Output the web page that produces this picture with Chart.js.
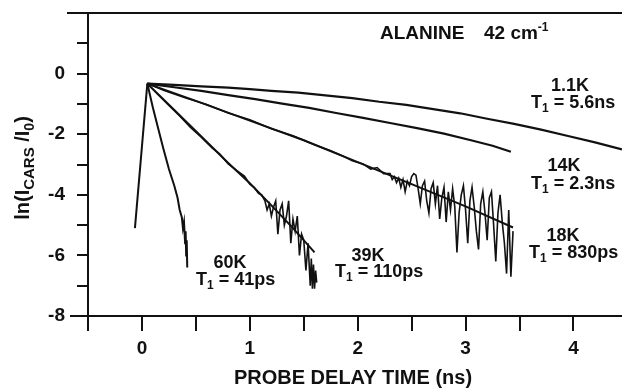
<!DOCTYPE html>
<html>
<head>
<meta charset="utf-8">
<script src="https://cdn.jsdelivr.net/npm/chart.js@4"></script>
<style>
  body { margin: 0; background: #fff; }
  #wrap { width: 622px; height: 388px; position: relative; }
</style>
</head>
<body>
<div id="wrap"><canvas id="myChart"></canvas></div>
<script>
// probe delay (ns) and ln(I_CARS/I_0)
const riseX = [-0.065, 0.05];
const riseY = [-5.1, -0.33];

const t1K = [0.05, 0.3, 0.55, 0.8, 1.0, 1.2, 1.45, 1.7, 1.95, 2.2, 2.45, 2.7, 2.95, 3.2, 3.45, 3.7, 3.95, 4.2, 4.45];
const ln1K = [-0.33, -0.37, -0.42, -0.46, -0.51, -0.57, -0.63, -0.72, -0.81, -0.93, -1.03, -1.17, -1.31, -1.49, -1.66, -1.85, -2.06, -2.27, -2.5];

const t14K = [0.05, 0.3, 0.55, 0.8, 1.05, 1.3, 1.55, 1.8, 2.05, 2.3, 2.55, 2.8, 3.05, 3.25, 3.42];
const ln14K = [-0.33, -0.45, -0.57, -0.71, -0.84, -0.99, -1.13, -1.3, -1.46, -1.63, -1.8, -1.98, -2.2, -2.38, -2.58];

const t18K = [0.05, 0.2, 0.4, 0.6, 0.8, 1.0, 1.2, 1.4, 1.6, 1.75, 1.85, 1.95, 2.05, 2.12, 2.18, 2.24,
    2.30, 2.32, 2.34, 2.36, 2.38, 2.40, 2.42, 2.44, 2.46, 2.48, 2.50, 2.52, 2.54, 2.56, 2.58, 2.60, 2.62, 2.64, 2.66, 2.68,
    2.70, 2.72, 2.74, 2.76, 2.78, 2.80, 2.82, 2.84, 2.86, 2.88, 2.90, 2.92, 2.94, 2.96, 2.98, 3.00, 3.02, 3.04, 3.06, 3.08,
    3.10, 3.12, 3.14, 3.16, 3.18, 3.20, 3.22, 3.24, 3.26, 3.28, 3.30, 3.32, 3.34, 3.36, 3.38, 3.40, 3.42, 3.44];
const ln18K = [-0.33, -0.55, -0.8, -1.02, -1.3, -1.52, -1.82, -2.05, -2.35, -2.55, -2.7, -2.88, -2.98, -3.15, -3.1, -3.3,
    -3.3, -3.5, -3.4, -3.6, -3.45, -3.75, -3.5, -3.9, -3.55, -3.7, -3.4, -3.3, -3.35, -3.8, -4.3, -3.7, -3.55, -4.2, -4.6, -3.8,
    -3.6, -4.3, -3.7, -4.8, -4.1, -3.75, -4.9, -3.9, -4.5, -3.8, -4.4, -5.9, -4.6, -4.0, -3.7, -4.5, -5.6, -4.2, -3.75, -4.4,
    -5.2, -5.8, -4.3, -3.9, -4.6, -5.5, -4.1, -3.9, -5.0, -6.2, -4.6, -4.0, -4.9, -5.6, -6.6, -4.5, -6.7, -5.2];
const fit18KX = [0.05, 0.5, 1.0, 1.5, 2.0, 2.5, 3.0, 3.44];
const fit18KY = [-0.33, -0.9, -1.55, -2.2, -2.92, -3.65, -4.38, -5.08];

const t39K = [0.05, 0.15, 0.25, 0.35, 0.45, 0.55, 0.65, 0.72, 0.8, 0.88, 0.95, 1.0, 1.04, 1.08, 1.11,
    1.14, 1.16, 1.18, 1.20, 1.22, 1.24, 1.26, 1.28, 1.30, 1.32, 1.34, 1.36, 1.38, 1.40, 1.42, 1.44, 1.46, 1.48, 1.50,
    1.52, 1.54, 1.56, 1.57, 1.58, 1.59, 1.60, 1.61, 1.62];
const ln39K = [-0.33, -0.7, -1.05, -1.4, -1.78, -2.1, -2.45, -2.65, -2.98, -3.2, -3.38, -3.65, -3.75, -3.95, -4.0,
    -4.2, -4.5, -4.3, -4.7, -4.4, -4.2, -5.3, -4.5, -4.3, -5.0, -4.7, -4.2, -5.6, -4.8, -5.2, -4.7, -6.0, -5.3, -5.5,
    -6.5, -5.6, -7.0, -6.1, -7.1, -6.3, -7.1, -6.5, -6.9];
const fit39KX = [0.05, 0.3, 0.6, 0.8, 1.0, 1.2, 1.4, 1.6];
const fit39KY = [-0.33, -1.2, -2.25, -2.95, -3.62, -4.35, -5.1, -5.9];

const t60K = [0.05, 0.1, 0.15, 0.2, 0.25, 0.3, 0.33, 0.35, 0.37, 0.38, 0.39, 0.4, 0.405, 0.41, 0.415, 0.42];
const ln60K = [-0.33, -1.1, -1.8, -2.5, -3.15, -3.7, -4.1, -4.5, -4.75, -5.1, -4.9, -5.6, -5.2, -6.0, -5.5, -6.4];

const xTicks = [0, 1, 2, 3, 4];
const yTicks = [0, -2, -4, -6, -8];

const INK = '#111';
const FONT = '"Liberation Sans", Arial, sans-serif';

function pts(xs, ys) {
    return xs.map((x, i) => ({ x: x, y: ys[i] }));
}

function curve(xs, ys, w) {
    return {
        data: pts(xs, ys),
        showLine: true,
        borderColor: INK,
        borderWidth: w || 2,
        pointRadius: 0,
        tension: 0
    };
}

// text with sub/superscripts: parts = [[text, size, dy], ...]
function drawRich(ctx, parts, x, y, align) {
    let total = 0;
    parts.forEach(p => {
        ctx.font = 'bold ' + p[1] + 'px ' + FONT;
        total += ctx.measureText(p[0]).width;
    });
    let cx = x;
    if (align === 'center') cx = x - total / 2;
    parts.forEach(p => {
        ctx.font = 'bold ' + p[1] + 'px ' + FONT;
        ctx.fillText(p[0], cx, y + (p[2] || 0));
        cx += ctx.measureText(p[0]).width;
    });
}

function tLabel(ctx, value, x, y) {
    drawRich(ctx, [['T', 18], ['1', 12, 4], [' = ' + value, 18]], x, y, 'left');
}

const annotations = {
    id: 'annotations',
    afterDraw(chart) {
        const ctx = chart.ctx;
        const a = chart.chartArea;
        ctx.save();
        // frame pieces
        ctx.strokeStyle = INK;
        ctx.lineWidth = 2;
        ctx.beginPath();
        ctx.moveTo(67, a.top);
        ctx.lineTo(a.right, a.top);
        ctx.moveTo(70, a.bottom);
        ctx.lineTo(a.left, a.bottom);
        ctx.stroke();

        ctx.fillStyle = INK;
        ctx.textBaseline = 'alphabetic';
        ctx.textAlign = 'left';
        drawRich(ctx, [['ALANINE', 19]], 380, 39, 'left');
        drawRich(ctx, [['42 cm', 19], ['-1', 12, -8]], 484, 39, 'left');

        drawRich(ctx, [['1.1K', 18]], 570, 91, 'center');
        tLabel(ctx, '5.6ns', 531, 108);
        drawRich(ctx, [['14K', 18]], 564, 171, 'center');
        tLabel(ctx, '2.3ns', 531, 189);
        drawRich(ctx, [['18K', 18]], 563, 241, 'center');
        tLabel(ctx, '830ps', 529, 258);
        drawRich(ctx, [['39K', 18]], 368, 261, 'center');
        tLabel(ctx, '110ps', 335, 277);
        drawRich(ctx, [['60K', 18]], 230, 268, 'center');
        tLabel(ctx, '41ps', 196, 285);

        // y axis title
        ctx.translate(29, 168);
        ctx.rotate(-Math.PI / 2);
        drawRich(ctx, [['ln(I', 20], ['CARS', 15, 5], [' /I', 20], ['0', 14, 5], [')', 20]], 0, 0, 'center');
        ctx.restore();

        ctx.save();
        ctx.fillStyle = INK;
        ctx.textBaseline = 'middle';
        drawRich(ctx, [['PROBE DELAY TIME (ns)', 20]], 353, 378, 'center');
        ctx.restore();
    }
};

const ctx = document.getElementById('myChart').getContext('2d');
const myChart = new Chart(ctx, {
    type: 'scatter',
    data: {
        datasets: [
            curve(riseX, riseY),
            curve(t1K, ln1K, 2.2),
            curve(t14K, ln14K, 2.2),
            curve(t18K, ln18K, 1.6),
            curve(fit18KX, fit18KY, 2),
            curve(t39K, ln39K, 1.6),
            curve(fit39KX, fit39KY, 2),
            curve(t60K, ln60K, 2)
        ]
    },
    options: {
        responsive: true,
        maintainAspectRatio: false,
        animation: false,
        layout: { padding: { top: 13, right: 0, left: 0, bottom: 0 } },
        plugins: {
            legend: { display: false },
            tooltip: { enabled: false }
        },
        scales: {
            x: {
                type: 'linear',
                min: -0.5,
                max: 4.45,
                afterFit: s => { s.height = 72; s.paddingLeft = 0; s.paddingRight = 0; },
                border: { display: true, color: INK, width: 2 },
                grid: { drawOnChartArea: false, drawTicks: true, tickLength: 15, color: INK, lineWidth: 2 },
                ticks: {
                    stepSize: 0.5,
                    includeBounds: false,
                    autoSkip: false,
                    maxRotation: 0,
                    padding: 6,
                    color: INK,
                    font: { family: FONT, size: 19, weight: 'bold' },
                    callback: v => xTicks.includes(v) ? String(v) : ''
                }
            },
            y: {
                min: -8,
                max: 2,
                afterFit: s => { s.width = 88; s.paddingTop = 0; s.paddingBottom = 0; },
                border: { display: true, color: INK, width: 2 },
                grid: { drawOnChartArea: false, drawTicks: true, tickLength: 11, color: INK, lineWidth: 2 },
                ticks: {
                    stepSize: 1,
                    autoSkip: false,
                    padding: 12,
                    color: INK,
                    font: { family: FONT, size: 19, weight: 'bold' },
                    callback: v => yTicks.includes(v) ? String(v) : ''
                }
            }
        }
    },
    plugins: [annotations]
});
</script>
</body>
</html>
